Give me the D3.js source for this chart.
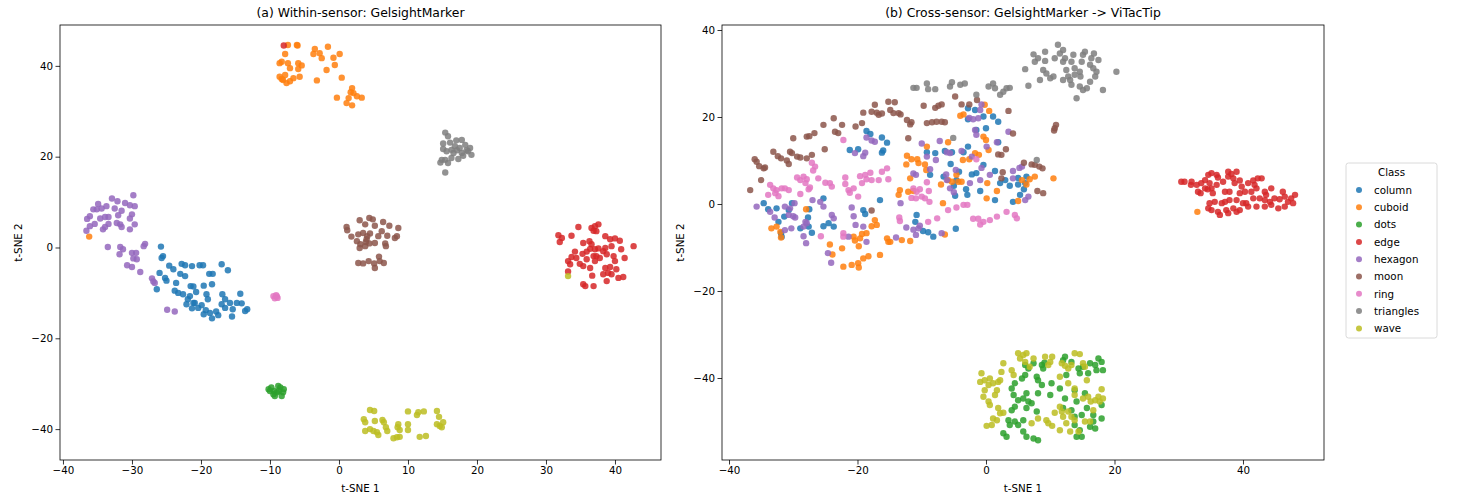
<!DOCTYPE html>
<html>
<head>
<meta charset="utf-8">
<script src="https://cdn.jsdelivr.net/npm/d3@7"></script>
<style>
  body { margin: 0; background: #fff; }
  text { font-family: "DejaVu Sans", sans-serif; fill: #000; }
</style>
</head>
<body>
<svg id="chart" width="1457" height="499"></svg>
<script>
// classes and tab10 colours
const classes = ["column", "cuboid", "dots", "edge", "hexagon", "moon", "ring", "triangles", "wave"];
const colors = ["#1f77b4", "#ff7f0e", "#2ca02c", "#d62728", "#9467bd", "#8c564b", "#e377c2", "#7f7f7f", "#bcbd22"];

// tick labels
const aXTicks = [-40, -30, -20, -10, 0, 10, 20, 30, 40];
const aYTicks = [-40, -20, 0, 20, 40];
const bXTicks = [-40, -20, 0, 20, 40];
const bYTicks = [-40, -20, 0, 20, 40];

// (a) within-sensor embedding
const A_column = [[-25.8,0.2],[-25.5,-1.9],[-25.7,-2.3],[-24.6,-4.0],[-24.0,-4.8],[-22.8,-3.6],[-22.3,-3.9],[-21.3,-4.1],[-20.2,-3.9],[-19.7,-3.9],[-17.0,-3.7],[-16.1,-5.0],[-23.0,-5.8],[-22.3,-6.3],[-26.0,-5.6],[-25.2,-6.7],[-25.0,-7.3],[-23.6,-7.8],[-21.5,-8.5],[-21.1,-8.6],[-19.6,-8.4],[-18.8,-5.8],[-18.3,-5.8],[-18.4,-8.1],[-26.4,-9.2],[-23.8,-9.5],[-23.3,-10.0],[-22.6,-10.3],[-21.6,-10.7],[-20.7,-9.8],[-19.2,-10.3],[-19.0,-11.4],[-16.9,-10.3],[-16.5,-11.4],[-14.3,-10.2],[-22.1,-12.5],[-21.3,-13.4],[-20.9,-12.2],[-20.4,-13.3],[-19.9,-12.7],[-19.3,-13.8],[-18.7,-14.4],[-17.8,-14.1],[-17.0,-12.5],[-16.5,-13.3],[-15.8,-12.2],[-14.8,-12.2],[-14.1,-12.3],[-15.4,-13.6],[-15.5,-15.2],[-18.4,-15.6],[-17.5,-14.9],[-13.6,-14.0],[-13.3,-13.6],[-19.6,-14.7],[-21.1,-12.2],[-21.9,-11.4]];
const A_cuboid = [[-7.4,44.6],[-6.1,44.6],[-6.0,44.5],[-3.5,43.7],[-3.7,42.6],[-2.8,42.8],[-1.6,44.2],[-2.5,41.7],[-0.8,41.8],[0.1,42.6],[-0.6,40.2],[-1.8,39.1],[0.4,37.4],[-3.2,36.8],[-7.8,42.6],[-8.3,40.9],[-8.6,40.6],[-7.1,39.5],[-7.4,40.6],[-5.9,40.6],[-5.4,40.1],[-5.9,39.3],[-8.6,37.6],[-8.1,36.9],[-7.6,36.2],[-7.1,36.6],[-6.6,37.3],[-5.7,37.6],[-7.8,38.0],[-8.3,37.1],[1.9,35.1],[1.7,34.2],[2.6,33.3],[3.3,33.0],[1.4,32.9],[1.1,31.8],[1.9,31.3],[-0.3,33.0],[2.1,34.0],[-36.2,2.4]];
const A_dots = [[-10.2,-31.2],[-9.8,-30.8],[-9.4,-31.6],[-8.8,-30.5],[-8.5,-30.8],[-8.0,-31.2],[-9.5,-32.3],[-9.0,-31.9],[-8.3,-32.7],[-9.3,-32.7],[-8.7,-31.6],[-8.1,-31.9],[-10.0,-31.6]];
const A_edge = [[34.7,4.5],[36.6,4.3],[37.1,4.7],[37.6,5.1],[37.3,3.6],[36.9,3.7],[31.8,2.7],[32.3,2.1],[32.0,1.2],[33.7,2.6],[38.6,2.5],[39.3,1.8],[40.0,2.0],[40.7,1.5],[42.7,0.3],[40.9,-0.4],[35.4,1.0],[36.3,1.4],[36.6,0.7],[36.4,-0.3],[37.1,-0.4],[37.6,-0.2],[35.9,-0.9],[35.3,-1.4],[34.2,-0.9],[33.7,-2.1],[33.2,-3.0],[33.5,-3.7],[34.9,-3.6],[35.4,-4.1],[36.4,-4.5],[37.1,-3.0],[37.8,-2.3],[38.3,-0.8],[38.6,-0.1],[39.5,0.3],[38.8,-1.5],[39.8,-1.9],[40.0,-3.0],[41.4,-2.3],[38.6,-4.5],[39.3,-4.3],[40.2,-4.8],[38.3,-5.9],[39.0,-5.6],[39.5,-5.9],[40.5,-6.7],[41.2,-6.5],[38.8,-7.4],[36.7,-6.2],[35.4,-8.1],[35.7,-8.5],[36.9,-8.5],[33.2,-5.3],[37.3,-1.9],[34.4,-2.3],[35.9,-2.6],[36.9,-1.9],[-8.0,44.5]];
const A_hexagon = [[-29.8,11.5],[-32.9,10.8],[-32.1,10.2],[-31.0,9.8],[-30.3,9.3],[-29.6,9.1],[-34.9,9.6],[-35.6,8.4],[-35.1,8.4],[-34.4,8.6],[-33.7,9.1],[-32.5,8.6],[-31.5,8.1],[-30.0,7.3],[-36.1,6.9],[-36.5,6.3],[-34.6,6.4],[-33.9,6.7],[-33.4,6.7],[-32.0,7.1],[-30.3,6.4],[-32.2,5.4],[-31.7,5.1],[-31.5,4.5],[-29.6,5.1],[-33.4,5.2],[-35.4,5.2],[-36.1,4.7],[-36.6,3.7],[-34.2,4.0],[-33.9,4.5],[-30.3,4.0],[-33.5,0.1],[-31.7,0.1],[-31.3,-0.4],[-31.8,-1.5],[-30.0,-1.2],[-29.4,-1.2],[-29.8,-2.4],[-29.3,-2.6],[-30.7,-3.9],[-30.0,-4.3],[-28.8,-5.4],[-28.1,0.8],[-28.3,0.3],[-27.1,-6.8],[-26.9,-7.5],[-26.7,-7.8],[-24.9,-13.7],[-23.8,-14.1]];
const A_moon = [[1.1,4.5],[1.2,3.8],[3.0,6.0],[3.8,5.1],[4.4,6.5],[4.9,6.2],[5.2,4.8],[6.4,5.6],[7.3,4.8],[8.6,4.3],[1.8,2.4],[2.8,2.9],[3.5,3.2],[4.1,2.5],[4.5,3.1],[5.7,2.5],[6.2,3.6],[7.0,2.6],[8.1,2.1],[8.4,2.5],[2.6,1.4],[3.1,0.7],[3.9,1.2],[4.4,0.9],[5.2,1.0],[6.7,0.9],[6.8,0.3],[3.0,-0.1],[3.8,0.3],[2.8,-3.4],[3.5,-3.5],[4.3,-3.0],[5.1,-3.5],[5.2,-4.5],[5.8,-2.0],[5.9,-3.0],[6.5,-3.4],[4.0,1.8]];
const A_ring = [[-9.5,-10.7],[-9.1,-10.5],[-8.9,-11.1],[-9.3,-11.2],[-9.0,-10.8]];
const A_triangles = [[15.4,25.3],[15.8,24.5],[15.1,22.9],[16.1,23.1],[17.0,23.6],[17.8,23.7],[18.3,22.6],[19.0,21.9],[18.7,21.2],[19.2,20.4],[17.8,20.8],[17.1,21.4],[16.3,21.5],[15.6,21.2],[15.1,21.7],[14.9,19.3],[14.7,18.7],[15.4,19.3],[16.3,19.7],[17.3,19.5],[18.0,20.2],[16.8,22.3],[17.5,21.9],[15.8,18.6],[15.4,16.5],[18.5,21.4],[16.6,20.8]];
const A_wave = [[4.5,-35.8],[5.1,-36.0],[3.6,-37.8],[3.8,-38.5],[5.2,-38.2],[6.3,-38.0],[6.5,-38.5],[3.8,-40.4],[4.5,-40.0],[5.0,-40.4],[5.5,-40.7],[5.7,-41.3],[6.8,-39.6],[7.0,-40.4],[7.9,-42.0],[8.4,-41.8],[8.8,-41.7],[8.6,-38.9],[8.5,-39.6],[8.8,-40.2],[10.0,-36.1],[11.3,-36.9],[11.5,-36.3],[12.3,-36.1],[10.0,-38.9],[10.0,-40.2],[11.7,-41.7],[12.6,-41.5],[14.2,-36.0],[14.5,-37.3],[14.2,-38.9],[14.6,-39.3],[15.1,-38.5],[14.9,-39.6],[33.2,-6.3]];

// (b) cross-sensor embedding
const B_column = [[-18.6,16.8],[-18.0,16.1],[-16.2,15.3],[-15.4,14.1],[-16.2,11.8],[-16.0,12.3],[-21.2,12.4],[-19.9,12.6],[-25.3,1.3],[-27.5,-1.2],[-27.7,-3.1],[-27.6,-5.2],[-27.1,-6.6],[-28.9,-5.6],[-30.2,0.2],[-30.7,-1.4],[-31.4,-2.9],[-32.3,-4.1],[-31.8,-7.5],[-31.9,-6.7],[-32.6,-1.0],[-33.9,-1.2],[-34.6,0.2],[-25.3,-5.1],[-24.5,-4.4],[-23.7,-5.2],[-19.1,-1.4],[-18.8,-2.3],[-16.5,0.9],[-2.8,22.0],[-1.7,21.6],[-0.4,20.1],[1.1,20.1],[1.9,18.9],[0.0,17.4],[-2.8,19.5],[-1.5,17.0],[-9.2,11.9],[-7.9,11.7],[-6.4,12.2],[-5.3,11.9],[-3.5,11.9],[-2.8,13.2],[-0.4,9.0],[-5.5,9.2],[-4.2,7.4],[-2.2,6.8],[-1.5,7.1],[1.4,7.6],[-8.7,6.7],[-6.6,6.3],[-4.6,5.5],[-5.0,4.2],[-3.1,3.4],[-2.9,2.1],[-4.8,1.9],[-0.9,3.0],[2.2,4.8],[3.0,5.5],[3.7,4.2],[5.0,6.0],[5.0,4.5],[6.3,6.3],[5.9,3.4],[5.3,2.1],[4.2,0.5],[6.1,4.8],[1.4,0.9],[-10.8,-2.5],[-11.0,-4.1],[-9.8,-6.2],[-9.0,-6.5],[-8.2,-7.5],[-4.7,-5.7],[1.9,14.2]];
const B_cuboid = [[-28.0,-1.2],[-33.4,-5.6],[-32.6,-5.2],[-32.0,-6.4],[-31.9,-7.7],[-24.3,-9.3],[-23.9,-11.6],[-22.4,-10.2],[-22.2,-14.4],[-20.9,-14.0],[-19.9,-13.6],[-19.8,-14.6],[-19.1,-12.5],[-18.3,-12.0],[-17.8,-5.1],[-17.3,-3.7],[-17.0,-4.8],[-19.3,-6.9],[-19.6,-7.9],[-18.6,-6.7],[-20.6,-7.5],[-20.4,-8.4],[-19.8,-9.7],[-16.5,-11.7],[-15.4,-7.9],[-15.2,-8.7],[-4.0,20.3],[-3.5,20.6],[0.5,21.4],[-0.2,22.8],[-0.4,15.5],[0.0,14.7],[0.4,12.4],[-5.9,14.2],[-9.2,13.2],[-12.3,11.1],[-11.6,10.3],[-10.7,10.3],[-10.5,9.4],[-12.4,9.1],[-9.5,9.1],[-9.3,7.8],[-12.1,2.8],[-11.3,3.0],[-13.6,2.1],[-13.4,3.2],[-11.8,5.9],[-7.0,4.5],[-5.9,5.5],[-5.3,5.1],[-4.3,5.1],[-3.8,5.1],[-4.6,6.7],[-6.7,0.2],[-3.6,10.1],[-2.6,10.3],[-1.1,11.3],[-1.7,11.7],[0.2,4.8],[0.1,1.3],[1.7,3.0],[5.0,0.7],[5.6,5.5],[6.3,4.5],[6.8,5.7],[7.6,6.3],[10.5,5.9],[-6.4,-7.0],[-13.1,-8.3],[-11.8,-8.5],[-14.9,-8.7],[32.9,-1.8]];
const B_dots = [[6.1,-37.0],[6.6,-37.8],[7.4,-36.6],[8.7,-37.0],[9.1,-36.5],[8.9,-37.8],[7.9,-39.7],[8.1,-40.5],[8.7,-41.6],[10.2,-41.2],[6.1,-39.3],[5.6,-40.1],[4.5,-41.2],[4.0,-42.4],[4.3,-43.9],[5.0,-45.1],[5.8,-44.7],[6.3,-43.5],[6.6,-45.4],[7.1,-45.8],[6.3,-46.9],[4.5,-46.6],[4.0,-47.4],[3.5,-49.7],[3.7,-50.8],[4.5,-50.0],[5.0,-50.8],[2.7,-52.7],[3.2,-53.5],[5.8,-52.3],[6.3,-53.5],[7.4,-53.9],[8.1,-54.3],[5.8,-49.7],[7.9,-47.7],[8.1,-43.5],[10.0,-43.9],[12.3,-35.1],[12.0,-35.9],[13.3,-36.3],[14.4,-37.8],[15.1,-37.4],[16.2,-36.6],[17.0,-37.0],[17.5,-35.5],[18.0,-36.3],[18.2,-38.2],[17.2,-38.2],[15.9,-38.9],[14.6,-38.9],[13.8,-42.8],[14.1,-45.4],[12.5,-39.3],[11.5,-42.4],[12.3,-44.7],[13.3,-47.4],[12.0,-46.9],[13.8,-48.9],[14.9,-48.5],[13.8,-50.8],[14.6,-52.0],[14.1,-53.5],[14.9,-53.5],[16.2,-51.2],[16.7,-50.0],[17.0,-51.6],[18.0,-49.3],[16.7,-48.5],[18.0,-46.2],[15.4,-43.5],[15.7,-46.9]];
const B_edge = [[30.4,5.1],[30.9,5.1],[32.0,5.1],[31.9,4.4],[32.8,4.4],[33.0,2.8],[33.4,2.5],[34.1,5.5],[34.6,6.7],[35.1,7.1],[35.9,6.7],[36.1,6.1],[34.8,4.8],[35.1,3.6],[34.5,3.4],[35.3,2.5],[35.9,4.4],[36.9,5.1],[37.2,2.8],[37.9,2.8],[37.7,7.4],[37.7,6.3],[38.2,6.9],[39.0,7.4],[38.5,5.9],[38.7,4.8],[39.5,5.4],[39.8,4.0],[40.3,2.8],[39.5,2.5],[41.3,2.8],[40.8,4.8],[41.6,5.4],[42.3,5.9],[42.9,5.9],[41.8,4.4],[42.1,3.6],[43.4,2.8],[44.4,3.6],[43.6,2.1],[42.6,1.3],[41.6,1.3],[43.4,0.9],[44.2,0.5],[44.9,1.3],[45.7,1.1],[46.2,2.8],[46.5,1.7],[47.0,0.5],[47.5,1.3],[48.1,2.1],[47.8,0.2],[46.5,-0.6],[45.5,-1.0],[44.4,-0.2],[43.4,-0.6],[42.1,-0.6],[40.8,-0.6],[40.0,0.2],[39.0,0.9],[37.9,0.9],[37.2,0.5],[36.7,0.2],[35.6,0.5],[34.8,0.2],[34.6,-1.0],[35.1,-1.4],[36.1,-1.8],[36.4,-2.5],[37.4,-1.4],[37.7,-2.1],[38.5,-1.0],[39.0,-1.8],[39.5,-1.4],[40.5,0.2],[34.1,3.6],[33.5,4.8]];
const B_hexagon = [[-18.6,15.3],[-17.8,14.6],[-17.3,14.3],[-20.4,11.7],[-19.1,11.0],[-18.8,11.8],[-35.7,-0.6],[-33.6,-1.8],[-32.9,-3.1],[-31.3,-0.6],[-30.5,-1.0],[-29.8,0.2],[-30.7,-2.5],[-30.0,-2.8],[-29.7,-3.1],[-31.3,-6.0],[-30.3,-5.6],[-28.4,-5.2],[-28.1,-4.1],[-27.9,-4.4],[-28.4,-7.4],[-28.0,-9.0],[-27.0,0.9],[-25.8,0.5],[-25.3,-0.6],[-24.0,-2.5],[-23.7,-3.3],[-20.9,-0.8],[-20.6,-2.8],[-20.3,-4.8],[-19.1,-5.2],[-18.6,-8.7],[-21.4,-7.5],[-24.6,-11.3],[-24.1,-13.5],[-0.7,22.9],[-0.9,21.6],[-1.2,19.7],[-2.0,19.5],[-2.6,19.8],[-1.7,17.0],[-1.5,15.9],[0.1,13.2],[1.7,14.2],[3.5,16.6],[-10.0,13.9],[-7.2,14.5],[-6.1,11.9],[-5.6,11.7],[-3.8,12.2],[-9.2,10.9],[-7.8,10.1],[-8.7,8.0],[-11.3,7.0],[-10.9,6.7],[-6.2,6.8],[-6.1,5.5],[-5.6,3.6],[-5.0,2.7],[-2.5,4.8],[-0.9,5.5],[0.6,6.7],[-0.7,8.3],[-2.2,10.9],[4.2,5.9],[5.2,8.3],[5.6,8.6],[4.2,7.6],[6.6,1.7],[6.1,0.9],[-13.3,0.2],[-12.4,-5.4],[-11.3,-5.9],[-10.5,-5.6],[-10.3,-5.0],[-10.9,-7.1],[-6.9,-6.7],[-14.0,-7.7],[-4.7,7.8]];
const B_moon = [[-36.7,3.2],[-35.0,5.5],[-36.0,10.3],[-35.7,9.7],[-35.3,8.7],[-34.6,8.2],[-34.4,8.4],[-33.1,12.0],[-32.4,11.0],[-31.9,10.5],[-31.0,10.0],[-30.7,9.2],[-30.5,12.0],[-30.2,11.7],[-29.4,10.9],[-28.9,10.7],[-27.9,10.5],[-27.1,11.3],[-30.0,15.1],[-27.9,15.5],[-27.5,15.6],[-26.7,16.3],[-25.1,12.6],[-25.3,18.2],[-23.7,19.7],[-23.5,16.6],[-23.0,16.3],[-22.4,18.2],[-20.3,17.8],[-19.3,18.6],[-19.1,21.0],[-17.8,21.2],[-17.3,22.8],[-17.0,21.0],[-16.7,20.5],[-16.2,20.8],[-15.2,23.5],[-14.9,21.6],[-17.8,-1.5],[-14.2,23.4],[-14.4,20.9],[-13.6,20.9],[-13.3,20.6],[-12.3,19.3],[-11.6,18.8],[-11.8,18.3],[-9.7,22.6],[-7.9,22.1],[-7.4,22.6],[-6.9,22.9],[-4.8,24.7],[-3.8,22.9],[-2.6,22.9],[-1.4,23.9],[-9.2,18.6],[-8.4,18.8],[-7.7,18.9],[-6.9,18.9],[-6.4,18.8],[-12.1,15.1],[3.5,21.4],[4.2,16.2],[1.9,11.4],[2.4,11.3],[3.1,12.6],[2.6,7.3],[2.4,5.9],[5.9,9.5],[7.1,9.1],[7.6,9.0],[8.3,8.6],[8.8,8.2],[8.0,3.0],[8.9,2.5],[10.7,17.4],[10.9,18.2],[10.6,16.9]];
const B_ring = [[-22.2,14.7],[-27.1,9.5],[-26.6,8.6],[-26.9,7.7],[-29.4,6.1],[-28.9,5.5],[-28.4,6.3],[-27.9,5.7],[-28.1,4.8],[-27.4,3.8],[-26.1,5.9],[-25.0,4.9],[-24.3,4.8],[-24.0,4.0],[-21.9,6.1],[-21.9,4.6],[-21.4,3.2],[-20.6,3.6],[-21.2,2.6],[-19.6,6.4],[-19.3,4.8],[-19.9,1.7],[-18.8,6.7],[-18.6,5.7],[-18.0,7.2],[-17.8,5.5],[-16.7,5.5],[-16.2,7.4],[-15.4,8.2],[-15.2,5.7],[-33.6,4.4],[-33.1,3.6],[-32.6,3.2],[-31.8,3.6],[-31.3,3.6],[-30.7,3.2],[-33.9,2.1],[-32.3,1.8],[-32.8,2.5],[-28.9,2.3],[-27.6,3.4],[-25.7,-7.4],[-22.2,-6.7],[-22.2,-7.5],[-11.3,3.6],[-10.8,2.8],[-10.3,3.4],[-11.6,1.4],[-10.9,1.3],[-10.0,1.7],[-9.5,1.3],[-8.8,0.5],[-8.9,3.0],[-9.2,5.0],[-5.9,-1.4],[-4.6,-0.8],[-3.5,-0.2],[-2.9,-0.2],[-2.0,-3.4],[-1.2,-3.4],[-0.9,-4.7],[-0.4,-4.1],[0.6,-3.7],[1.7,-2.9],[3.2,-1.8],[4.5,-2.5],[4.8,-3.3],[-13.5,-3.1],[-13.4,-3.9],[-9.0,-4.1],[-7.6,-3.3],[-1.5,10.3]];
const B_triangles = [[-11.3,26.7],[-10.8,26.7],[-9.2,27.7],[-9.0,26.4],[-7.9,26.4],[-5.6,27.0],[-5.3,28.0],[-4.0,27.4],[-3.3,27.7],[-1.5,25.1],[0.4,27.0],[1.1,27.7],[1.4,26.6],[2.2,25.1],[2.7,25.8],[3.2,26.6],[3.7,26.7],[6.1,31.0],[6.6,27.2],[7.4,34.4],[7.6,32.7],[8.1,33.5],[8.4,28.5],[9.2,35.0],[9.2,32.9],[8.9,30.8],[9.4,30.0],[10.0,28.9],[10.5,29.3],[10.7,33.5],[11.2,36.6],[11.5,34.6],[12.0,35.4],[12.0,32.7],[12.3,33.5],[12.5,30.8],[12.8,29.3],[13.1,28.5],[13.3,27.4],[13.3,32.7],[13.6,34.3],[13.8,31.2],[14.1,24.3],[14.6,30.4],[14.9,32.7],[15.1,34.3],[15.4,35.0],[14.7,29.3],[14.6,27.0],[15.1,26.2],[15.7,26.6],[16.4,33.5],[16.8,34.6],[16.2,32.0],[16.7,31.2],[17.2,30.4],[17.0,29.3],[17.5,33.1],[18.2,26.2],[20.3,30.4],[16.2,28.1],[12.0,28.5],[13.8,29.7],[-5.1,15.2],[7.9,10.1]];
const B_wave = [[-0.7,-38.9],[-0.9,-40.9],[-0.2,-40.5],[0.6,-40.1],[0.4,-41.6],[1.1,-41.2],[1.9,-40.9],[2.4,-38.6],[2.7,-36.6],[2.2,-40.5],[1.7,-42.8],[1.4,-43.9],[-0.2,-42.8],[-0.4,-44.3],[0.4,-45.4],[0.6,-46.2],[1.9,-46.9],[2.2,-48.1],[2.7,-48.0],[1.1,-49.3],[1.7,-49.7],[0.1,-51.0],[0.9,-50.8],[4.3,-39.3],[4.0,-38.2],[5.0,-34.3],[5.3,-35.5],[5.8,-34.7],[6.3,-34.3],[6.1,-36.3],[6.8,-37.4],[7.4,-35.5],[9.2,-35.1],[9.7,-37.0],[10.3,-35.1],[10.0,-36.3],[9.4,-49.7],[9.7,-50.4],[10.3,-51.0],[10.7,-48.0],[11.5,-46.6],[11.8,-47.7],[12.0,-48.9],[11.5,-52.0],[12.3,-37.2],[11.8,-36.6],[12.8,-37.8],[13.3,-37.0],[11.5,-39.7],[12.8,-41.2],[13.8,-34.3],[14.6,-34.5],[15.1,-36.6],[15.4,-37.4],[15.7,-40.5],[13.8,-42.4],[13.8,-43.9],[15.1,-44.7],[15.9,-44.3],[16.3,-45.4],[17.0,-45.1],[17.5,-44.3],[17.7,-45.4],[18.0,-42.6],[16.7,-47.4],[18.2,-44.7],[12.8,-47.7],[13.3,-48.9],[13.8,-49.7],[12.5,-50.4],[13.1,-52.3],[14.4,-52.3],[15.4,-50.0],[16.2,-50.0],[8.1,-49.3],[7.1,-50.4]];

const panels = [
  { title: "(a) Within-sensor: GelsightMarker", x0: 60, x1: 661, xDom: [-40.43, 46.67], yDom: [-46.8, 49.0],
    xTicks: aXTicks, yTicks: aYTicks, ylabX: 18,
    sets: [A_column, A_cuboid, A_dots, A_edge, A_hexagon, A_moon, A_ring, A_triangles, A_wave] },
  { title: "(b) Cross-sensor: GelsightMarker -> ViTacTip", x0: 722, x1: 1324, xDom: [-41.09, 52.61], yDom: [-58.85, 41.15],
    xTicks: bXTicks, yTicks: bYTicks, ylabX: 680,
    sets: [B_column, B_cuboid, B_dots, B_edge, B_hexagon, B_moon, B_ring, B_triangles, B_wave] }
];

const plotTop = 25, plotBottom = 460;
const svg = d3.select("#chart");
svg.append("rect").attr("width", 1457).attr("height", 499).attr("fill", "#fff");

const fmt = d => d < 0 ? "\u2212" + Math.abs(d) : String(d);

panels.forEach(p => {
  const x = d3.scaleLinear().domain(p.xDom).range([p.x0, p.x1]);
  const y = d3.scaleLinear().domain(p.yDom).range([plotBottom, plotTop]);
  const g = svg.append("g");

  // points, one class after the other like plt.scatter per label
  p.sets.forEach((pts, i) => {
    g.append("g").selectAll("circle").data(pts).join("circle")
      .attr("cx", d => x(d[0]))
      .attr("cy", d => y(d[1]))
      .attr("r", 3.2)
      .attr("fill", colors[i])
      .attr("fill-opacity", 0.85);
  });

  const xa = g.append("g").attr("transform", `translate(0,${plotBottom})`)
    .call(d3.axisBottom(x).tickValues(p.xTicks).tickFormat(fmt).tickSize(4.5).tickPadding(2.5));
  const ya = g.append("g").attr("transform", `translate(${p.x0},0)`)
    .call(d3.axisLeft(y).tickValues(p.yTicks).tickFormat(fmt).tickSize(4.5).tickPadding(2.5));
  [xa, ya].forEach(a => {
    a.select(".domain").remove();
    a.selectAll("line").attr("stroke", "#000").attr("stroke-width", 0.8);
    a.selectAll("text").attr("font-size", 10.3).attr("font-family", "DejaVu Sans").attr("fill", "#000");
  });

  g.append("rect")
    .attr("x", p.x0).attr("y", plotTop)
    .attr("width", p.x1 - p.x0).attr("height", plotBottom - plotTop)
    .attr("fill", "none").attr("stroke", "#000").attr("stroke-width", 0.8);

  g.append("text").attr("x", (p.x0 + p.x1) / 2).attr("y", 17)
    .attr("text-anchor", "middle").attr("font-size", 12.4).text(p.title);
  g.append("text").attr("x", (p.x0 + p.x1) / 2).attr("y", 492)
    .attr("text-anchor", "middle").attr("font-size", 10.3).text("t-SNE 1");
  g.append("text").attr("transform", `translate(${p.ylabX + 4},${(plotTop + plotBottom) / 2}) rotate(-90)`)
    .attr("text-anchor", "middle").attr("font-size", 10.3).text("t-SNE 2");
});

// legend
const lg = svg.append("g").attr("transform", "translate(1346,163)");
lg.append("rect").attr("width", 91).attr("height", 175).attr("rx", 2.5)
  .attr("fill", "#fff").attr("fill-opacity", 0.8).attr("stroke", "#d0d0d0").attr("stroke-width", 0.8);
lg.append("text").attr("x", 45.5).attr("y", 13).attr("text-anchor", "middle")
  .attr("font-size", 10.3).text("Class");
classes.forEach((c, i) => {
  const yy = 27 + i * 17.3;
  lg.append("circle").attr("cx", 13).attr("cy", yy).attr("r", 3).attr("fill", colors[i]).attr("fill-opacity", 0.85);
  lg.append("text").attr("x", 28).attr("y", yy + 3.8).attr("font-size", 10.3).text(c);
});
</script>
</body>
</html>
